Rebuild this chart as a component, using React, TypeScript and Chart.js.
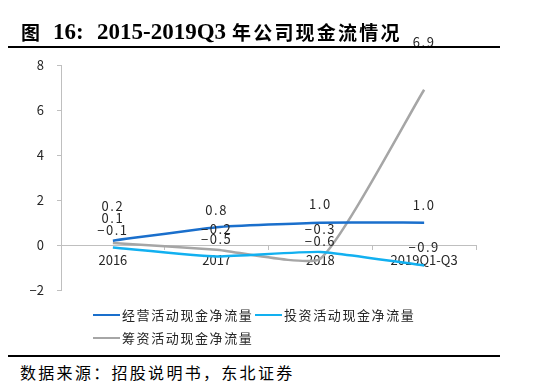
import React, { useEffect, useRef } from 'react';
import { Chart, registerables } from 'chart.js';

Chart.register(...registerables);

const categories = ['2016', '2017', '2018', '2019Q1-Q3'];
const operating = [0.2, 0.8, 1.0, 1.0];
const investing = [-0.1, -0.5, -0.3, -0.9];
const financing = [0.1, -0.2, -0.6, 6.9];
const seriesNames = ['经营活动现金净流量', '投资活动现金净流量', '筹资活动现金净流量'];
const yMin = -2;
const yMax = 8;
const yStep = 2;

const titleParts = ['图', '16:', '2015-2019Q3', '年公司现金流情况'];
const sourceText = '数据来源：招股说明书，东北证券';

// style: colours and label offsets (pixels)
const COLORS = ['#1a6fcc', '#12b0f0', '#a6a6a6'];
const LABEL_DY = [
  [-35, -17, -19, -18],
  [-17, -17, -23, -18],
  [-25, -21, -18, -48],
];

const fmt = (v: number) => v.toFixed(1).replace('-', '\u2212');

const labelPlugin = {
  id: 'valueLabels',
  afterDatasetsDraw(chart: any) {
    const ctx = chart.ctx;
    const xs = chart.scales.x;
    const ys = chart.scales.y;
    ctx.save();
    ctx.font = '13px "Noto Sans CJK SC", sans-serif';
    ctx.fillStyle = '#262626';
    ctx.textAlign = 'center';
    ctx.textBaseline = 'middle';
    (ctx as any).letterSpacing = '1.5px';
    chart.data.datasets.forEach((ds: any, di: number) => {
      ds.data.forEach((v: number, i: number) => {
        const x = xs.getPixelForValue(i);
        const y = ys.getPixelForValue(v) + LABEL_DY[di][i];
        ctx.fillText(fmt(v), x, y);
      });
    });
    ctx.restore();
  },
};

function ChartCanvas() {
  const ref = useRef<HTMLCanvasElement | null>(null);
  useEffect(() => {
    if (!ref.current) return;
    const tickFont = { family: '"Noto Sans CJK SC", sans-serif', size: 13 };
    const chart = new Chart(ref.current, {
      type: 'line',
      data: {
        labels: categories,
        datasets: [operating, investing, financing].map((d, i) => ({
          label: seriesNames[i],
          data: d,
          borderColor: COLORS[i],
          backgroundColor: COLORS[i],
          borderWidth: 2.5,
          pointRadius: 0,
          tension: 0.15,
          fill: false,
        })),
      },
      options: {
        animation: false,
        responsive: false,
        devicePixelRatio: 1,
        layout: { padding: { left: 0, right: 24, top: 35, bottom: 10 } },
        plugins: { legend: { display: false }, tooltip: { enabled: false } },
        scales: {
          x: {
            type: 'category',
            offset: true,
            position: { y: 0 } as any,
            grid: { offset: true, drawOnChartArea: false, tickLength: 4, color: '#bfbfbf' },
            border: { color: '#bfbfbf', width: 1 },
            ticks: { padding: 3, font: tickFont, color: '#262626', maxRotation: 0, autoSkip: false },
          },
          y: {
            min: yMin,
            max: yMax,
            ticks: {
              stepSize: yStep,
              padding: 13,
              font: tickFont,
              color: '#262626',
              callback: (v: any) => String(v).replace('-', '\u2212'),
            },
            grid: { drawOnChartArea: false, tickLength: 4, color: '#bfbfbf' },
            border: { color: '#bfbfbf', width: 1 },
            afterFit: (s: any) => { s.width = 61; },
          },
        },
      },
      plugins: [labelPlugin],
    });
    return () => chart.destroy();
  }, []);
  return (
    <canvas
      ref={ref}
      width={500}
      height={281}
      style={{ position: 'absolute', left: 0, top: 30, width: 500, height: 281, display: 'block' }}
    />
  );
}

export default function App() {
  const legendText: React.CSSProperties = {
    fontFamily: '"Noto Sans CJK SC", sans-serif',
    fontSize: 13,
    letterSpacing: '1.6px',
    color: '#262626',
    lineHeight: '16px',
    whiteSpace: 'nowrap',
  };
  const legendItem = (i: number, left: number, top: number) => (
    <div key={i} style={{ position: 'absolute', left, top, display: 'flex', alignItems: 'center' }}>
      <div style={{ width: 27, height: 2.5, background: COLORS[i], marginRight: 2 }} />
      <span style={legendText}>{seriesNames[i]}</span>
    </div>
  );
  const latin: React.CSSProperties = {
    position: 'absolute',
    top: 19,
    fontFamily: '"Liberation Serif", serif',
    fontWeight: 'bold',
    fontSize: 23,
    lineHeight: '26px',
    color: '#000',
    whiteSpace: 'pre',
  };
  const cjk: React.CSSProperties = {
    position: 'absolute',
    top: 19,
    fontFamily: '"Noto Sans CJK SC", sans-serif',
    fontWeight: 'bold',
    fontSize: 19,
    letterSpacing: '2.2px',
    lineHeight: '26px',
    color: '#000',
    whiteSpace: 'pre',
  };
  return (
    <div style={{ position: 'absolute', left: 0, top: 0, width: 558, height: 385, background: '#fff', overflow: 'hidden' }}>
      <ChartCanvas />
      <div style={{ ...cjk, left: 21 }}>{titleParts[0]}</div>
      <div style={{ ...latin, left: 53 }}>{titleParts[1]}</div>
      <div style={{ ...latin, left: 97 }}>{titleParts[2]}</div>
      <div style={{ ...cjk, left: 232 }}>{titleParts[3]}</div>
      <div style={{ position: 'absolute', left: 8, top: 46, width: 492, height: 2, background: '#000' }} />
      {legendItem(0, 93, 307)}
      {legendItem(1, 255, 307)}
      {legendItem(2, 93, 330)}
      <div style={{ position: 'absolute', left: 8, top: 355, width: 492, height: 2, background: '#000' }} />
      <div
        style={{
          position: 'absolute',
          left: 20,
          top: 362,
          fontFamily: '"Noto Sans CJK SC", sans-serif',
          fontSize: 16,
          letterSpacing: '2.3px',
          lineHeight: '20px',
          color: '#000',
          whiteSpace: 'nowrap',
        }}
      >
        {sourceText}
      </div>
    </div>
  );
}
